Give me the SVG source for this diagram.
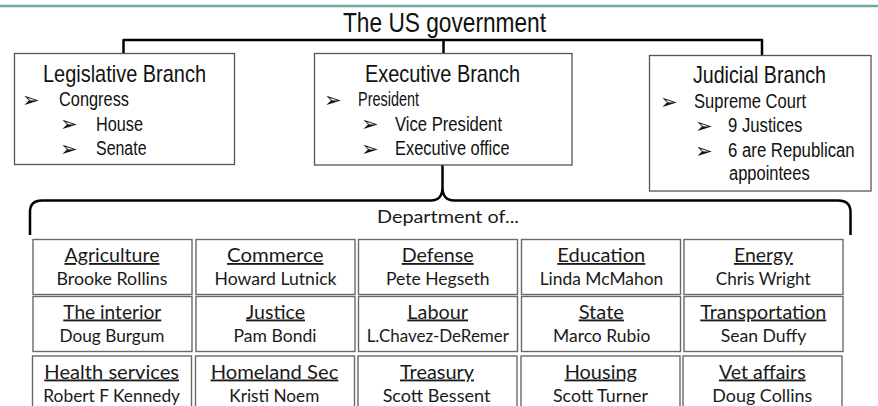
<svg xmlns="http://www.w3.org/2000/svg" width="878" height="406" viewBox="0 0 878 406">
  <style>
    .bg { fill: #ffffff; }
    .rule { stroke: #6fa9a6; stroke-width: 2.5; }
    .conn { fill: none; stroke: #000000; stroke-width: 2.5; stroke-linejoin: round; }
    .branch { fill: #ffffff; stroke: #555555; stroke-width: 1.3; }
    .cell { fill: #ffffff; stroke: #6a6a6a; stroke-width: 1.4; }
    .nar { font-family: "Liberation Sans", Arial, sans-serif; fill: #111111; }
    .title { font-size: 28px; text-anchor: middle; }
    .head { font-size: 24px; text-anchor: middle; }
    .item { font-size: 20px; }
    .bul { font-family: "DejaVu Sans", sans-serif; font-size: 21px; fill: #111111; }
    .dept { font-family: Lato, "Noto Sans", sans-serif; fill: #1a1a1a; text-anchor: middle; font-size: 18px; }
    .dn { text-decoration: underline; font-size: 18.5px; }
  </style>

  <rect class="bg" x="0" y="0" width="878" height="406"/>
  <line class="rule" x1="0" y1="6" x2="878" y2="6"/>

  <text id="title" class="nar title" x="444.5" y="32" textLength="203" lengthAdjust="spacingAndGlyphs">The US government</text>

  <!-- connectors: top bracket and the brace under the executive branch -->
  <g id="connectors">
    <path class="conn" d="M123.5 54 L123.5 40 L762 40 L762 55"/>
    <path class="conn" d="M443.5 40 L443.5 53"/>
    <path class="conn" d="M30 235 L30 212 Q30 200.5 42 200.5 L431 200.5 Q442 200.5 442.5 188 L442.5 165 M442.5 188 Q443 200.5 454 200.5 L838 200.5 Q850.5 200.5 850.5 212 L850.5 235"/>
  </g>

  <g id="legislative">
    <rect class="branch" x="14.5" y="53.5" width="220" height="111"/>
    <text class="nar head" x="124.5" y="82" textLength="163" lengthAdjust="spacingAndGlyphs">Legislative Branch</text>
    <text class="bul" x="22" y="107">➢</text>
    <text class="nar item" x="59" y="106" textLength="70" lengthAdjust="spacingAndGlyphs">Congress</text>
    <text class="bul" x="60" y="131">➢</text>
    <text class="nar item" x="96" y="130.5" textLength="47" lengthAdjust="spacingAndGlyphs">House</text>
    <text class="bul" x="60" y="156">➢</text>
    <text class="nar item" x="96" y="155" textLength="50.5" lengthAdjust="spacingAndGlyphs">Senate</text>
  </g>

  <g id="executive">
    <rect class="branch" x="314.5" y="53.5" width="257.5" height="111.5"/>
    <text class="nar head" x="442.5" y="82" textLength="155" lengthAdjust="spacingAndGlyphs">Executive Branch</text>
    <text class="bul" x="324" y="107">➢</text>
    <text class="nar item" x="358" y="106" textLength="61" lengthAdjust="spacingAndGlyphs">President</text>
    <text class="bul" x="361" y="131">➢</text>
    <text class="nar item" x="395" y="130.5" textLength="107" lengthAdjust="spacingAndGlyphs">Vice President</text>
    <text class="bul" x="361" y="156">➢</text>
    <text class="nar item" x="395" y="155" textLength="114.5" lengthAdjust="spacingAndGlyphs">Executive office</text>
  </g>

  <g id="judicial">
    <rect class="branch" x="649.5" y="55.5" width="221.5" height="135.5"/>
    <text class="nar head" x="759.5" y="83" textLength="133" lengthAdjust="spacingAndGlyphs">Judicial Branch</text>
    <text class="bul" x="660" y="109">➢</text>
    <text class="nar item" x="694" y="108" textLength="112" lengthAdjust="spacingAndGlyphs">Supreme Court</text>
    <text class="bul" x="695" y="133">➢</text>
    <text class="nar item" x="728" y="132" textLength="74.3" lengthAdjust="spacingAndGlyphs">9 Justices</text>
    <text class="bul" x="695" y="158">➢</text>
    <text class="nar item" x="728" y="157" textLength="126.7" lengthAdjust="spacingAndGlyphs">6 are Republican</text>
    <text class="nar item" x="729" y="179.5" textLength="80.7" lengthAdjust="spacingAndGlyphs">appointees</text>
  </g>

  <text id="dept-label" class="dept" x="448" y="223" textLength="142" lengthAdjust="spacingAndGlyphs">Department of...</text>

  <!-- departments: 5 columns x 3 rows -->
  <g id="dept-agriculture">
    <rect class="cell" x="33" y="239.5" width="159" height="55"/>
    <text class="dept dn" x="112" y="262" textLength="95" lengthAdjust="spacingAndGlyphs">Agriculture</text>
    <text class="dept" x="112" y="284.5" textLength="111" lengthAdjust="spacingAndGlyphs">Brooke Rollins</text>
  </g>
  <g id="dept-commerce">
    <rect class="cell" x="196" y="239.5" width="159" height="55"/>
    <text class="dept dn" x="275.3" y="262" textLength="96.5" lengthAdjust="spacingAndGlyphs">Commerce</text>
    <text class="dept" x="275.5" y="284.5" textLength="122" lengthAdjust="spacingAndGlyphs">Howard Lutnick</text>
  </g>
  <g id="dept-defense">
    <rect class="cell" x="358.5" y="239.5" width="159" height="55"/>
    <text class="dept dn" x="437.7" y="262" textLength="72" lengthAdjust="spacingAndGlyphs">Defense</text>
    <text class="dept" x="437.8" y="284.5" textLength="103.7" lengthAdjust="spacingAndGlyphs">Pete Hegseth</text>
  </g>
  <g id="dept-education">
    <rect class="cell" x="521.5" y="239.5" width="159" height="55"/>
    <text class="dept dn" x="601.3" y="262" textLength="88" lengthAdjust="spacingAndGlyphs">Education</text>
    <text class="dept" x="601.5" y="284.5" textLength="123.7" lengthAdjust="spacingAndGlyphs">Linda McMahon</text>
  </g>
  <g id="dept-energy">
    <rect class="cell" x="684" y="239.5" width="159" height="55"/>
    <text class="dept dn" x="763.5" y="262" textLength="59" lengthAdjust="spacingAndGlyphs">Energy</text>
    <text class="dept" x="763.2" y="284.5" textLength="95" lengthAdjust="spacingAndGlyphs">Chris Wright</text>
  </g>

  <g id="dept-interior">
    <rect class="cell" x="33" y="296.5" width="159" height="55"/>
    <text class="dept dn" x="112.3" y="318.5" textLength="98" lengthAdjust="spacingAndGlyphs">The interior</text>
    <text class="dept" x="112" y="341.5" textLength="105" lengthAdjust="spacingAndGlyphs">Doug Burgum</text>
  </g>
  <g id="dept-justice">
    <rect class="cell" x="196" y="296.5" width="159" height="55"/>
    <text class="dept dn" x="275.5" y="318.5" textLength="59" lengthAdjust="spacingAndGlyphs">Justice</text>
    <text class="dept" x="275" y="341.5" textLength="83" lengthAdjust="spacingAndGlyphs">Pam Bondi</text>
  </g>
  <g id="dept-labour">
    <rect class="cell" x="358.5" y="296.5" width="159" height="55"/>
    <text class="dept dn" x="437.7" y="318.5" textLength="60.7" lengthAdjust="spacingAndGlyphs">Labour</text>
    <text class="dept" x="437.8" y="341.5" textLength="142.3" lengthAdjust="spacingAndGlyphs">L.Chavez-DeRemer</text>
  </g>
  <g id="dept-state">
    <rect class="cell" x="521.5" y="296.5" width="159" height="55"/>
    <text class="dept dn" x="601.3" y="318.5" textLength="45.3" lengthAdjust="spacingAndGlyphs">State</text>
    <text class="dept" x="601.7" y="341.5" textLength="97.3" lengthAdjust="spacingAndGlyphs">Marco Rubio</text>
  </g>
  <g id="dept-transportation">
    <rect class="cell" x="684" y="296.5" width="159" height="55"/>
    <text class="dept dn" x="763.3" y="318.5" textLength="126" lengthAdjust="spacingAndGlyphs">Transportation</text>
    <text class="dept" x="763.5" y="341.5" textLength="85.7" lengthAdjust="spacingAndGlyphs">Sean Duffy</text>
  </g>

  <g id="dept-health">
    <rect class="cell" x="32.5" y="356" width="159" height="60"/>
    <text class="dept dn" x="111.7" y="378.5" textLength="134.7" lengthAdjust="spacingAndGlyphs">Health services</text>
    <text class="dept" x="111.7" y="401.5" textLength="136.7" lengthAdjust="spacingAndGlyphs">Robert F Kennedy</text>
  </g>
  <g id="dept-homeland">
    <rect class="cell" x="195.5" y="356" width="159" height="60"/>
    <text class="dept dn" x="274.5" y="378.5" textLength="127.7" lengthAdjust="spacingAndGlyphs">Homeland Sec</text>
    <text class="dept" x="274.3" y="401.5" textLength="90" lengthAdjust="spacingAndGlyphs">Kristi Noem</text>
  </g>
  <g id="dept-treasury">
    <rect class="cell" x="358" y="356" width="159" height="60"/>
    <text class="dept dn" x="437" y="378.5" textLength="74" lengthAdjust="spacingAndGlyphs">Treasury</text>
    <text class="dept" x="436.5" y="401.5" textLength="107.7" lengthAdjust="spacingAndGlyphs">Scott Bessent</text>
  </g>
  <g id="dept-housing">
    <rect class="cell" x="521" y="356" width="159" height="60"/>
    <text class="dept dn" x="600.8" y="378.5" textLength="72.3" lengthAdjust="spacingAndGlyphs">Housing</text>
    <text class="dept" x="600.5" y="401.5" textLength="95" lengthAdjust="spacingAndGlyphs">Scott Turner</text>
  </g>
  <g id="dept-vet">
    <rect class="cell" x="683" y="356" width="159" height="60"/>
    <text class="dept dn" x="762.3" y="378.5" textLength="86.7" lengthAdjust="spacingAndGlyphs">Vet affairs</text>
    <text class="dept" x="762.3" y="401.5" textLength="100" lengthAdjust="spacingAndGlyphs">Doug Collins</text>
  </g>
</svg>
